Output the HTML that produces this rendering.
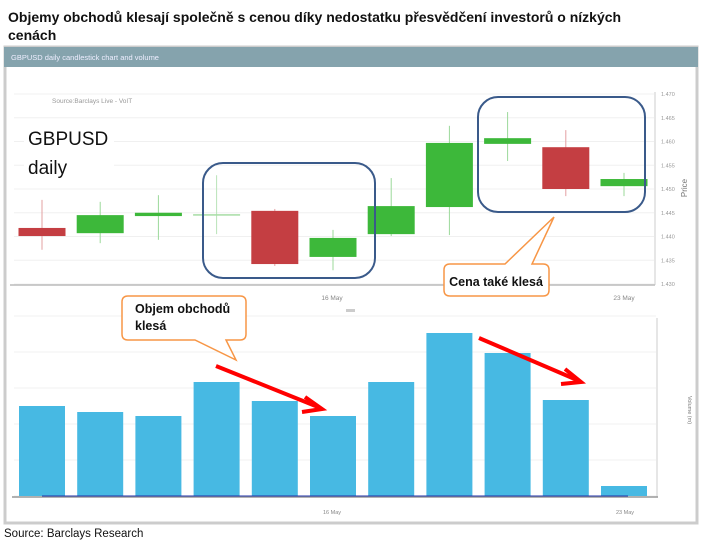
<!DOCTYPE html>
<html><head><meta charset="utf-8"><style>
body{margin:0;width:705px;height:546px;background:#fff;overflow:hidden;font-family:"Liberation Sans",sans-serif}
svg{position:absolute;left:0;top:0}
</style></head><body>
<svg width="705" height="546">
<text x="8" y="22" font-size="14" font-weight="bold" fill="#111">Objemy obchodů klesají společně s cenou díky nedostatku přesvědčení investorů o nízkých</text>
<text x="8" y="40" font-size="14" font-weight="bold" fill="#111">cenách</text>
<rect x="5" y="47" width="692" height="476" fill="#fff" stroke="#ccc" stroke-width="3"/>
<rect x="4" y="47" width="694" height="20" fill="#85a3ad"/>
<text x="11" y="60" font-size="7.5" fill="#eef">GBPUSD daily candlestick chart and volume</text>
<g id="price"></g>
<g id="vol"></g>
<rect x="24" y="122" width="90" height="60" fill="#fff"/>
<text x="52" y="103" font-size="6.5" fill="#999">Source:Barclays Live - VoIT</text>
<text x="28" y="145" font-size="19" fill="#111">GBPUSD</text>
<text x="28" y="174" font-size="19" fill="#111">daily</text>
<line x1="10" y1="285" x2="655" y2="285" stroke="#bbb" stroke-width="1.5"/>
<text x="332" y="300" font-size="6.5" fill="#888" text-anchor="middle">16 May</text>
<text x="624" y="300" font-size="6.5" fill="#888" text-anchor="middle">23 May</text>
<rect x="346" y="309" width="9" height="3" fill="#ccc"/>
<text x="332" y="514" font-size="5.5" fill="#888" text-anchor="middle">16 May</text>
<text x="625" y="514" font-size="5.5" fill="#888" text-anchor="middle">23 May</text>
<text x="687" y="188" font-size="8" fill="#777" text-anchor="middle" transform="rotate(-90 687 188)">Price</text>
<text x="688" y="410" font-size="5.5" fill="#777" text-anchor="middle" transform="rotate(90 688 410)">Volume (m)</text>
<rect x="203" y="163" width="172" height="115" rx="20" fill="none" stroke="#3a5a8a" stroke-width="2"/>
<rect x="478" y="97" width="167" height="115" rx="20" fill="none" stroke="#3a5a8a" stroke-width="2"/>
<path d="M450,264 H505 L554,217 L532,264 H543 Q549,264 549,270 V290 Q549,296 543,296 H450 Q444,296 444,290 V270 Q444,264 450,264 Z" fill="#fff" stroke="#f79646" stroke-width="1.5"/>
<text x="496" y="286" font-size="12.5" font-weight="bold" fill="#111" text-anchor="middle">Cena také klesá</text>
<path d="M128,296 H240 Q246,296 246,302 V334 Q246,340 240,340 H226 L236,360 L195,340 H128 Q122,340 122,334 V302 Q122,296 128,296 Z" fill="#fff" stroke="#f79646" stroke-width="1.5"/>
<text x="135" y="313" font-size="12.5" font-weight="bold" fill="#111">Objem obchodů</text>
<text x="135" y="330" font-size="12.5" font-weight="bold" fill="#111">klesá</text>
<g stroke="#f00" stroke-width="4" fill="none">
<line x1="216" y1="366" x2="318" y2="407"/><path d="M305,397 L322,409 L302,412"/>
<line x1="479" y1="338" x2="577" y2="380"/><path d="M565,369 L581,382 L561,384"/>
</g>
<text x="4" y="537" font-size="11.5" fill="#111">Source: Barclays Research</text>
</svg>
<script>
const dates=['d1','d2','d3','d4','d5','d6','d7','d8','d9','d10','d11'];
const opens=[1.4418,1.4407,1.4443,1.4447,1.4454,1.4357,1.4405,1.4462,1.4595,1.4588,1.4506];
const closes=[1.4401,1.4445,1.4450,1.4447,1.4342,1.4397,1.4464,1.4597,1.4607,1.4500,1.4521];
const highs=[1.4477,1.4473,1.4487,1.4529,1.4458,1.4414,1.4523,1.4633,1.4662,1.4624,1.4534];
const lows=[1.4372,1.4386,1.4393,1.4405,1.4338,1.4329,1.4401,1.4403,1.4559,1.4485,1.4485];
const volumes=[90,84,80,114,95,80,114,163,143,96,10];
const priceTicks=[1.470,1.465,1.460,1.455,1.450,1.445,1.440,1.435,1.430];
const volTicks=[0,36,72,108,144,180];
const NS='http://www.w3.org/2000/svg';
const xC=i=>42+i*58.2;
const yP=p=>94+(1.470-p)*4750;
const yV=v=>496-v;
function mk(parent,tag,attrs){const e=document.createElementNS(NS,tag);for(const k in attrs)e.setAttribute(k,attrs[k]);parent.appendChild(e);return e;}
const pg=document.getElementById('price'),vg=document.getElementById('vol');
priceTicks.forEach(t=>{
 const g=mk(pg,'line',{x1:14,x2:654,y1:yP(t),y2:yP(t),stroke:'#f0f0f0'});
 
 
 const l=mk(pg,'text',{x:661,y:yP(t)+2,'font-size':5.5,fill:'#999'});l.textContent=t.toFixed(3);
 
 
});
mk(pg,'line',{x1:655,x2:655,y1:92,y2:285,stroke:'#ccc'});
dates.forEach((d,i)=>{
 const up=closes[i]>opens[i],doji=closes[i]===opens[i];
 const col=doji?'#a6dca4':(up?'#3db83a':'#c43e42');
 const wc=doji?'#b9e4b8':(up?'#9bd99a':'#e3a0a2');
 const w=mk(pg,'line',{x1:xC(i),x2:xC(i),y1:yP(highs[i]),y2:yP(lows[i]),stroke:wc,'stroke-width':1});
 
 
 const top=yP(Math.max(opens[i],closes[i])),bot=yP(Math.min(opens[i],closes[i]));
 const b=mk(pg,'rect',{x:xC(i)-23.5,y:top,width:47,height:Math.max(bot-top,doji?1.5:3),fill:col});
 
 
});
volTicks.forEach(t=>{
 const g=mk(vg,'line',{x1:14,x2:656,y1:yV(t),y2:yV(t),stroke:'#f2f2f2'});
 
 
});
mk(vg,'line',{x1:657,x2:657,y1:318,y2:497,stroke:'#ccc'});
volumes.forEach((v,i)=>{
 const b=mk(vg,'rect',{x:xC(i)-23,y:yV(v),width:46,height:v,fill:'#47b9e3'});
 
 
});
mk(vg,'line',{x1:12,x2:658,y1:497,y2:497,stroke:'#999','stroke-width':1.5});
mk(vg,'line',{x1:42,x2:628,y1:496,y2:496,stroke:'#2233aa','stroke-width':1});
</script>
</body></html>
